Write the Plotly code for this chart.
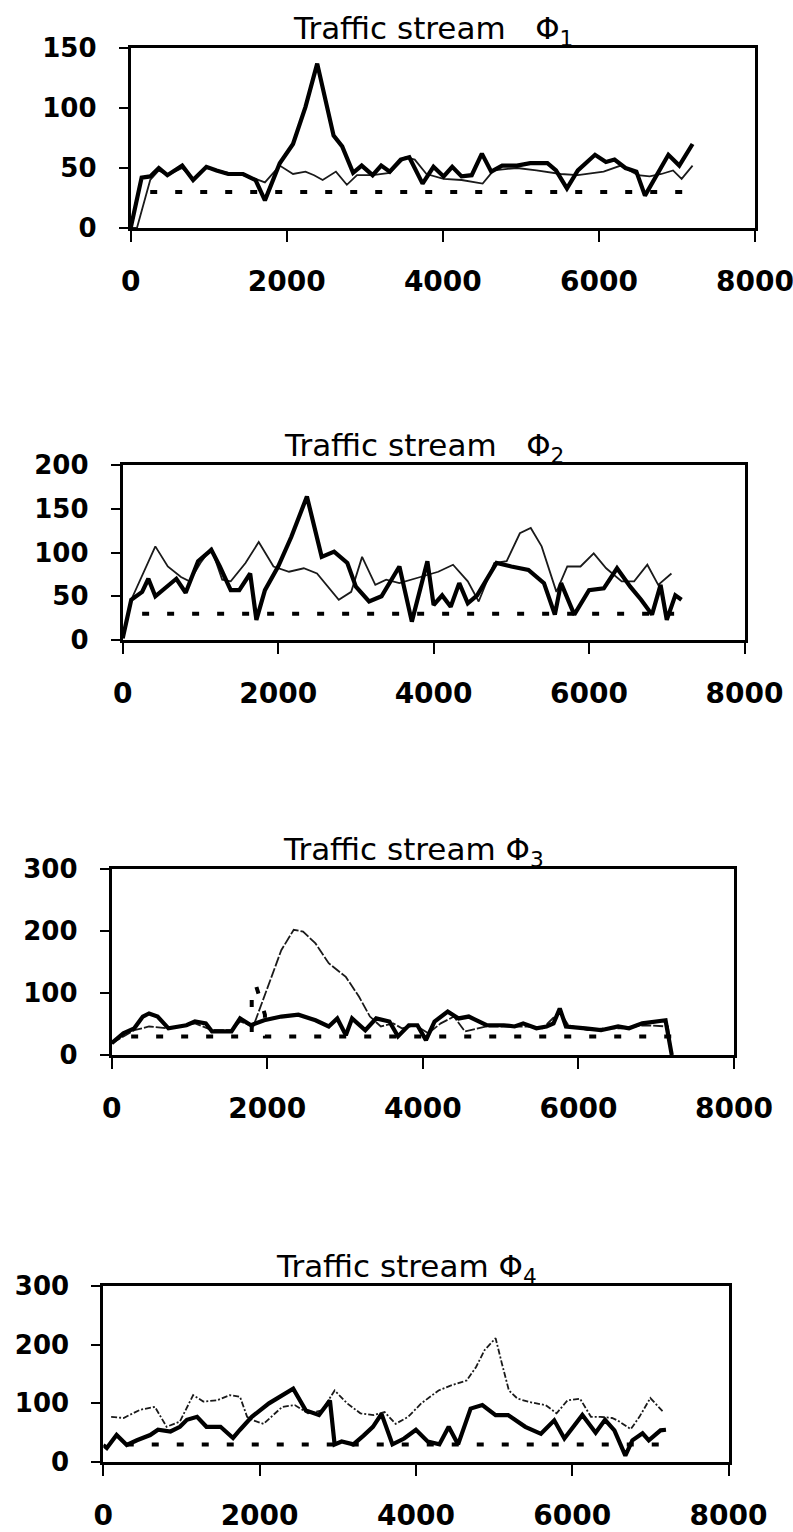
import plotly.graph_objects as go

# ---------------- data ----------------
p1_thick_x = [0,140,250,360,470,660,800,970,1100,1250,1440,1600,1720,1910,2080,2240,2390,2600,2710,2850,2960,3100,3210,3320,3460,3570,3740,3880,4010,4120,4240,4370,4500,4620,4760,4950,5120,5340,5450,5590,5730,5950,6090,6200,6340,6480,6590,6730,6890,7030,7200]
p1_thick_y = [0,42,43,50,44,52,40,51,48,45,45,40,23,54,70,101,137,77,68,46,52,44,52,47,57,59,37,51,43,51,43,44,62,47,52,52,54,54,48,33,48,61,55,57,50,47,27,43,61,52,70]
p1_thin_x = [0,80,250,360,470,660,800,970,1250,1440,1600,1720,1910,2080,2240,2350,2460,2630,2770,2900,3100,3320,3520,3640,3790,4010,4240,4510,4650,4950,5200,5510,5730,6060,6280,6500,6650,6800,6950,7060,7200]
p1_thin_y = [0,0,40,48,44,50,41,50,46,44,41,38,52,45,47,44,40,47,36,44,44,46,59,57,45,41,40,37,48,50,48,45,44,47,52,44,43,45,48,41,52]
p1_ref_x = [250, 7200]
p1_ref_y = [30, 30]

p2_thick_x = [0,110,250,330,420,580,690,810,970,1140,1250,1390,1500,1640,1720,1830,2000,2170,2370,2560,2720,2890,3000,3170,3330,3560,3720,3920,4000,4110,4220,4330,4440,4560,4810,5000,5220,5420,5560,5640,5810,6000,6190,6360,6530,6670,6810,6920,7000,7110,7190]
p2_thick_y = [2,46,55,70,50,61,70,54,90,103,84,57,57,76,23,57,84,118,164,95,101,88,61,44,50,84,21,90,40,51,38,65,42,51,88,84,80,65,29,65,29,57,59,82,61,46,29,63,23,51,46]
p2_thin_x = [0,110,420,580,750,860,1000,1140,1280,1390,1580,1750,1940,2140,2330,2500,2780,2940,3080,3250,3390,3560,3830,4060,4250,4440,4580,4780,4940,5110,5250,5390,5580,5720,5890,6060,6220,6420,6580,6750,6890,7060]
p2_thin_y = [2,46,107,84,72,67,88,105,69,67,88,112,84,78,82,76,46,55,95,63,69,65,72,78,86,67,44,88,90,122,128,107,55,84,84,99,82,67,67,86,63,76]
p2_ref_x = [250, 7200]
p2_ref_y = [30, 30]

p3_thick_x = [0,150,290,400,480,590,730,960,1070,1210,1290,1540,1650,1790,1960,2180,2400,2620,2790,2900,3010,3090,3260,3400,3570,3680,3820,3930,4040,4150,4320,4460,4590,4820,5040,5180,5290,5460,5590,5680,5760,5840,6090,6290,6510,6650,6820,6980,7120,7200]
p3_thick_y = [19,35,43,62,67,62,43,48,54,51,38,38,59,48,56,62,65,56,46,59,32,59,40,59,54,30,48,48,24,54,70,59,62,48,48,46,51,43,46,51,75,46,43,40,46,43,51,54,56,0]
p3_thin_x = [0,150,290,480,730,1070,1290,1540,1650,1820,2010,2180,2340,2460,2620,2790,3010,3180,3320,3460,3620,3730,3900,4070,4230,4400,4540,4820,5100,5320,5540,5760,5870,6120,6340,6560,6840,7070,7150,7200]
p3_thin_y = [19,30,40,46,43,51,40,40,54,46,110,169,202,199,180,148,126,94,62,46,51,43,48,35,51,62,38,46,46,46,43,70,48,40,43,43,48,46,46,0]
p3_ref_x = [250, 1800, 1800, 1860, 1970, 1970, 7200]
p3_ref_y = [30, 30, 110, 110, 65, 30, 30]

p4_thick_x = [0,45,170,300,430,600,700,860,980,1070,1200,1320,1500,1660,1750,1900,2120,2430,2590,2760,2900,2960,3050,3200,3330,3450,3560,3700,3850,4000,4150,4300,4420,4540,4700,4850,5020,5180,5400,5600,5770,5900,6130,6300,6420,6540,6680,6770,6900,6980,7130,7200]
p4_thick_y = [29,24,46,29,37,46,55,52,60,72,77,60,60,41,55,77,100,125,88,80,105,30,35,30,45,60,82,30,40,55,35,30,60,30,91,97,80,80,60,48,71,40,80,50,72,54,11,37,49,37,54,55]
p4_thin_x = [100,260,470,660,810,980,1150,1280,1450,1620,1750,1840,1920,2050,2290,2450,2620,2800,2960,3120,3290,3460,3600,3740,3900,4070,4290,4460,4650,4770,4880,5020,5100,5190,5300,5460,5660,5800,5940,6100,6240,6360,6510,6580,6750,6860,7000,7160]
p4_thin_y = [77,75,89,94,60,69,114,103,105,114,111,77,71,65,94,97,83,88,122,100,83,80,85,65,77,100,122,131,139,162,191,211,168,122,108,102,97,83,105,108,77,77,75,71,56,77,109,86]
p4_ref_x = [300, 7200]
p4_ref_y = [30, 30]

titles = ["Traffic stream\u00a0\u00a0\u00a0Φ<sub>1</sub>",
          "Traffic stream\u00a0\u00a0\u00a0Φ<sub>2</sub>",
          "Traffic stream Φ<sub>3</sub>",
          "Traffic stream Φ<sub>4</sub>"]
y_ranges = [150, 200, 300, 300]
y_dticks = [50, 50, 100, 100]
x_ticks = [0, 2000, 4000, 6000, 8000]

W, H = 793, 1532
# panel frames in pixels: (left, right, top, bottom)
frames = [(130.7, 755.0, 48, 228),
          (122.7, 744.5, 465, 640),
          (111.7, 734.0, 869, 1055),
          (103.3, 728.5, 1286, 1462)]

panels = [
    (p1_thick_x, p1_thick_y, p1_thin_x, p1_thin_y, p1_ref_x, p1_ref_y, None),
    (p2_thick_x, p2_thick_y, p2_thin_x, p2_thin_y, p2_ref_x, p2_ref_y, None),
    (p3_thick_x, p3_thick_y, p3_thin_x, p3_thin_y, p3_ref_x, p3_ref_y, "10px,2px"),
    (p4_thick_x, p4_thick_y, p4_thin_x, p4_thin_y, p4_ref_x, p4_ref_y, "6px,2px,2px,2px"),
]

fig = go.Figure()
annotations = []
TICKFONT = "DejaVu Sans"

for i, (tkx, tky, tnx, tny, rx, ry, thin_dash) in enumerate(panels):
    n = "" if i == 0 else str(i + 1)
    xa, ya = "x" + n, "y" + n
    fig.add_trace(go.Scatter(x=rx, y=ry, mode="lines", xaxis=xa, yaxis=ya,
                             line=dict(color="black", width=4, dash="7px,18px"),
                             showlegend=False, hoverinfo="skip"))
    fig.add_trace(go.Scatter(x=tnx, y=tny, mode="lines", xaxis=xa, yaxis=ya,
                             line=dict(color="#1a1a1a", width=1.8,
                                       dash=thin_dash if thin_dash else "solid"),
                             showlegend=False))
    fig.add_trace(go.Scatter(x=tkx, y=tky, mode="lines", xaxis=xa, yaxis=ya,
                             line=dict(color="black", width=4.2),
                             showlegend=False))
    l, r, t, b = frames[i]
    xdom = [l / W, r / W]
    ydom = [1 - b / H, 1 - t / H]
    fig.layout["xaxis" + n] = dict(
        domain=xdom, anchor=ya, range=[0, 8000], tickvals=x_ticks,
        ticktext=[str(v) for v in x_ticks], automargin=False,
        ticklabeloverflow="allow",
        showline=True, mirror=True, linecolor="black", linewidth=3,
        ticks="outside", ticklen=11, tickwidth=1.5, tickcolor="black",
        showgrid=False, zeroline=False,
        tickfont=dict(family=TICKFONT, size=28, color="black", weight="bold"),
        ticklabelstandoff=15)
    fig.layout["yaxis" + n] = dict(
        domain=ydom, anchor=xa, range=[0, y_ranges[i]], dtick=y_dticks[i],
        tick0=0, automargin=False,
        showline=True, mirror=True, linecolor="black", linewidth=3,
        ticks="outside", ticklen=9, tickwidth=1.5, tickcolor="black",
        showgrid=False, zeroline=False,
        tickfont=dict(family=TICKFONT, size=26, color="black", weight="bold"),
        ticklabelstandoff=17)
    annotations.append(dict(
        text=titles[i], xref=xa + " domain", yref=ya + " domain",
        x=0.485, y=1, xanchor="center", yanchor="bottom", yshift=-5,
        showarrow=False,
        font=dict(family="DejaVu Sans", size=31, color="black")))

fig.update_layout(template="none", autosize=False,
                  width=W, height=H, margin=dict(l=0, r=0, t=0, b=0, pad=0),
                  paper_bgcolor="white", plot_bgcolor="white",
                  annotations=annotations, showlegend=False)

fig.write_html("out.html",
               config={"displayModeBar": False, "responsive": False},
               post_script="document.body.style.margin='0';"
                           "document.body.style.padding='0';"
                           "document.body.style.overflow='hidden';")
